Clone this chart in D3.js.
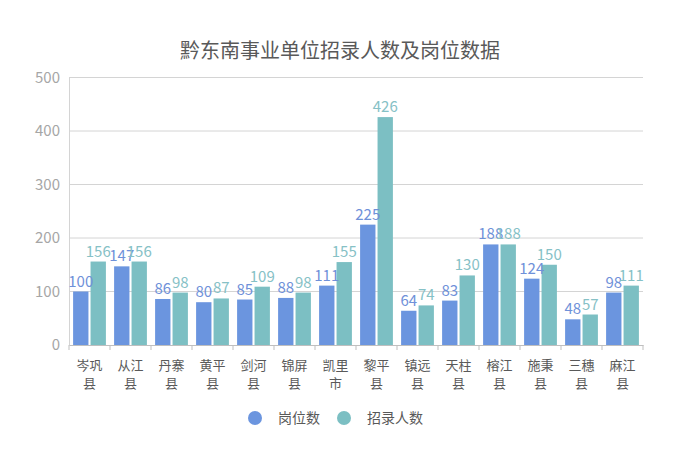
<!DOCTYPE html>
<html><head><meta charset="utf-8">
<script src="https://cdn.jsdelivr.net/npm/d3@7"></script>
<style>body{margin:0;background:#fff}svg{display:block;font-family:"Noto Sans CJK SC","Noto Sans",sans-serif}</style>
</head><body>
<svg id="c" width="677" height="466"></svg>
<script>
const title = "黔东南事业单位招录人数及岗位数据";
const categories = ["岑巩县","从江县","丹寨县","黄平县","剑河县","锦屏县","凯里市","黎平县","镇远县","天柱县","榕江县","施秉县","三穗县","麻江县"];
const seriesNames = ["岗位数","招录人数"];
const posts = [100,147,86,80,85,88,111,225,64,83,188,124,48,98];
const hires = [156,156,98,87,109,98,155,426,74,130,188,150,57,111];
const yTicks = [0,100,200,300,400,500];
const colors = ["#6b95df","#7cbfc3"];
const labelColors = ["#6f91d9","#86c1c6"];

const svg = d3.select("#c");
const m = {l:69, r:643, t:77.5, b:345};
const x = d3.scaleBand().domain(categories).range([m.l, m.r]).paddingInner(0.2).paddingOuter(0.1);
const x0 = d3.scaleBand().domain(categories).range([m.l, m.r]);
const xs = d3.scaleBand().domain(seriesNames).range([0, x.bandwidth()]).paddingInner(0.12);
const y = d3.scaleLinear().domain([0,500]).range([m.b, m.t]);

svg.append("text").attr("x",340).attr("y",58).attr("text-anchor","middle")
  .attr("font-size",20).attr("fill","#595959").text(title);

// gridlines
svg.append("g").selectAll("line").data(yTicks.filter(d=>d>0)).join("line")
  .attr("x1",m.l).attr("x2",m.r).attr("y1",d=>y(d)).attr("y2",d=>y(d))
  .attr("stroke","#d4d4d4").attr("stroke-width",1);

// y axis
const ya = svg.append("g").attr("transform",`translate(${m.l},0)`)
  .call(d3.axisLeft(y).tickValues(yTicks).tickSize(0).tickPadding(9));
ya.select(".domain").attr("stroke","#d4d4d4");
ya.selectAll("text").attr("font-size",15).attr("fill","#a6a6a6").attr("font-family","'Noto Sans CJK SC',sans-serif");

// bars
const data = categories.map((c,i)=>({c, v:[posts[i],hires[i]]}));
const g = svg.append("g").selectAll("g").data(data).join("g")
  .attr("transform",d=>`translate(${x(d.c)},0)`);
g.selectAll("rect").data(d=>d.v.map((v,j)=>({s:seriesNames[j],v,j}))).join("rect")
  .attr("x",d=>xs(d.s)).attr("width",xs.bandwidth())
  .attr("y",d=>y(d.v)).attr("height",d=>y(0)-y(d.v)).attr("fill",d=>colors[d.j]);
g.selectAll("text").data(d=>d.v.map((v,j)=>({s:seriesNames[j],v,j}))).join("text")
  .attr("x",d=>xs(d.s)+xs.bandwidth()/2).attr("y",d=>y(d.v)-5)
  .attr("text-anchor","middle").attr("font-size",15).attr("fill",d=>labelColors[d.j]).text(d=>d.v);

// x axis
const xa = svg.append("g").attr("transform",`translate(0,${m.b})`)
  .call(d3.axisBottom(x0).tickSize(0).tickFormat(""));
xa.select(".domain").attr("stroke","#bfbfbf");
svg.append("g").selectAll("line").data(categories.concat(["end"])).join("line")
  .attr("x1",(d,i)=>m.l+i*x0.step()).attr("x2",(d,i)=>m.l+i*x0.step())
  .attr("y1",m.b).attr("y2",m.b+5).attr("stroke","#bfbfbf");
const lab = svg.append("g").selectAll("text").data(categories).join("text")
  .attr("text-anchor","middle").attr("font-size",13).attr("fill","#595959")
  .attr("transform",d=>`translate(${x0(d)+x0.bandwidth()/2},0)`);
lab.append("tspan").attr("x",0).attr("y",370).text(d=>d.slice(0,2));
lab.append("tspan").attr("x",0).attr("y",388).text(d=>d.slice(2));

// legend
const lg = svg.append("g");
const lx = [255,344];
seriesNames.forEach((s,i)=>{
  lg.append("circle").attr("cx",lx[i]).attr("cy",418).attr("r",7).attr("fill",colors[i]);
  lg.append("text").attr("x",lx[i]+23).attr("y",423).attr("font-size",14).attr("fill","#595959").text(s);
});
</script>
</body></html>
